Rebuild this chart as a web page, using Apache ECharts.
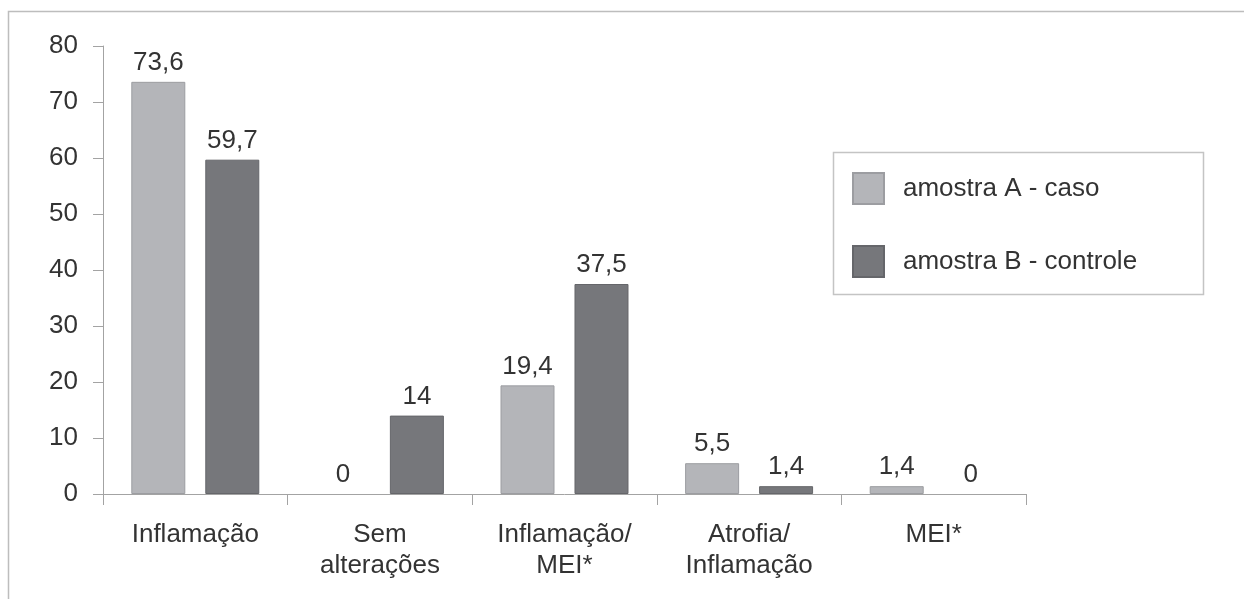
<!DOCTYPE html>
<html>
<head>
<meta charset="utf-8">
<script src="https://cdn.jsdelivr.net/npm/echarts@6/dist/echarts.min.js"></script>
<style>
  html, body { margin: 0; padding: 0; background: #ffffff; }
  #chart { width: 1244px; height: 599px; }
</style>
</head>
<body>
<div id="chart"></div>
<script>
// Categories and percentages per sample
var categories = ['Inflamação', 'Sem\nalterações', 'Inflamação/\nMEI*', 'Atrofia/\nInflamação', 'MEI*'];
var seriesNames = ['amostra A - caso', 'amostra B - controle'];
var amostraA = [73.6, 0, 19.4, 5.5, 1.4];
var amostraB = [59.7, 14, 37.5, 1.4, 0];
var yTicks = [0, 10, 20, 30, 40, 50, 60, 70, 80];

var FONT = '"Liberation Sans", Arial, sans-serif';
var TEXT = '#333333';
var AXIS = '#a3a3a3';

function fmt(v) { return String(v).replace('.', ','); }

// zero-height bars get no outline so only their value label shows
function barData(values) {
  return values.map(function (v) {
    return v === 0 ? { value: v, itemStyle: { borderWidth: 0 } } : v;
  });
}

function barSeries(name, data, fill, stroke) {
  return {
    name: name,
    type: 'bar',
    data: barData(data),
    barWidth: 54,
    barGap: '37%',
    itemStyle: { color: fill, borderColor: stroke, borderWidth: 1 },
    label: {
      show: true,
      position: 'top',
      distance: 6,
      formatter: function (p) { return fmt(p.value); },
      fontFamily: FONT,
      fontSize: 26,
      color: TEXT
    }
  };
}

var chart = echarts.init(document.getElementById('chart'), null, { renderer: 'canvas' });
chart.setOption({
  backgroundColor: '#ffffff',
  animation: false,
  graphic: [{
    type: 'rect',
    shape: { x: 8.5, y: 11.5, width: 1400, height: 800 },
    style: { fill: 'none', stroke: '#bdbdbd', lineWidth: 1.5 },
    silent: true,
    z: 0
  }, {
    type: 'rect',
    shape: { x: 833.5, y: 152.5, width: 370, height: 142 },
    style: { fill: '#ffffff', stroke: '#c4c4c4', lineWidth: 1.5 },
    silent: true,
    z: 1
  }],
  legend: {
    orient: 'vertical',
    left: 852,
    top: 172,
    padding: 0,
    itemWidth: 31,
    itemHeight: 31,
    itemGap: 40,
    icon: 'rect',
    z: 5,
    textStyle: { fontFamily: FONT, fontSize: 26, color: TEXT, padding: [0, 0, 0, 14] },
    data: seriesNames
  },
  grid: { left: 103, top: 46, right: 218, bottom: 105, containLabel: false },
  xAxis: {
    type: 'category',
    data: categories,
    axisLine: { lineStyle: { color: AXIS, width: 1 } },
    axisTick: { show: true, length: 11, alignWithLabel: false, lineStyle: { color: AXIS } },
    axisLabel: {
      interval: 0,
      margin: 25,
      fontFamily: FONT,
      fontSize: 26,
      lineHeight: 31,
      color: TEXT
    }
  },
  yAxis: {
    type: 'value',
    min: yTicks[0],
    max: yTicks[yTicks.length - 1],
    interval: 10,
    axisLine: { show: true, lineStyle: { color: AXIS, width: 1 } },
    axisTick: { show: true, length: 10, lineStyle: { color: AXIS } },
    splitLine: { show: false },
    axisLabel: {
      margin: 25,
      fontFamily: FONT,
      fontSize: 26,
      color: TEXT
    }
  },
  series: [
    barSeries(seriesNames[0], amostraA, '#b4b5b9', '#9c9da1'),
    barSeries(seriesNames[1], amostraB, '#76777b', '#65666a')
  ]
});
</script>
</body>
</html>
